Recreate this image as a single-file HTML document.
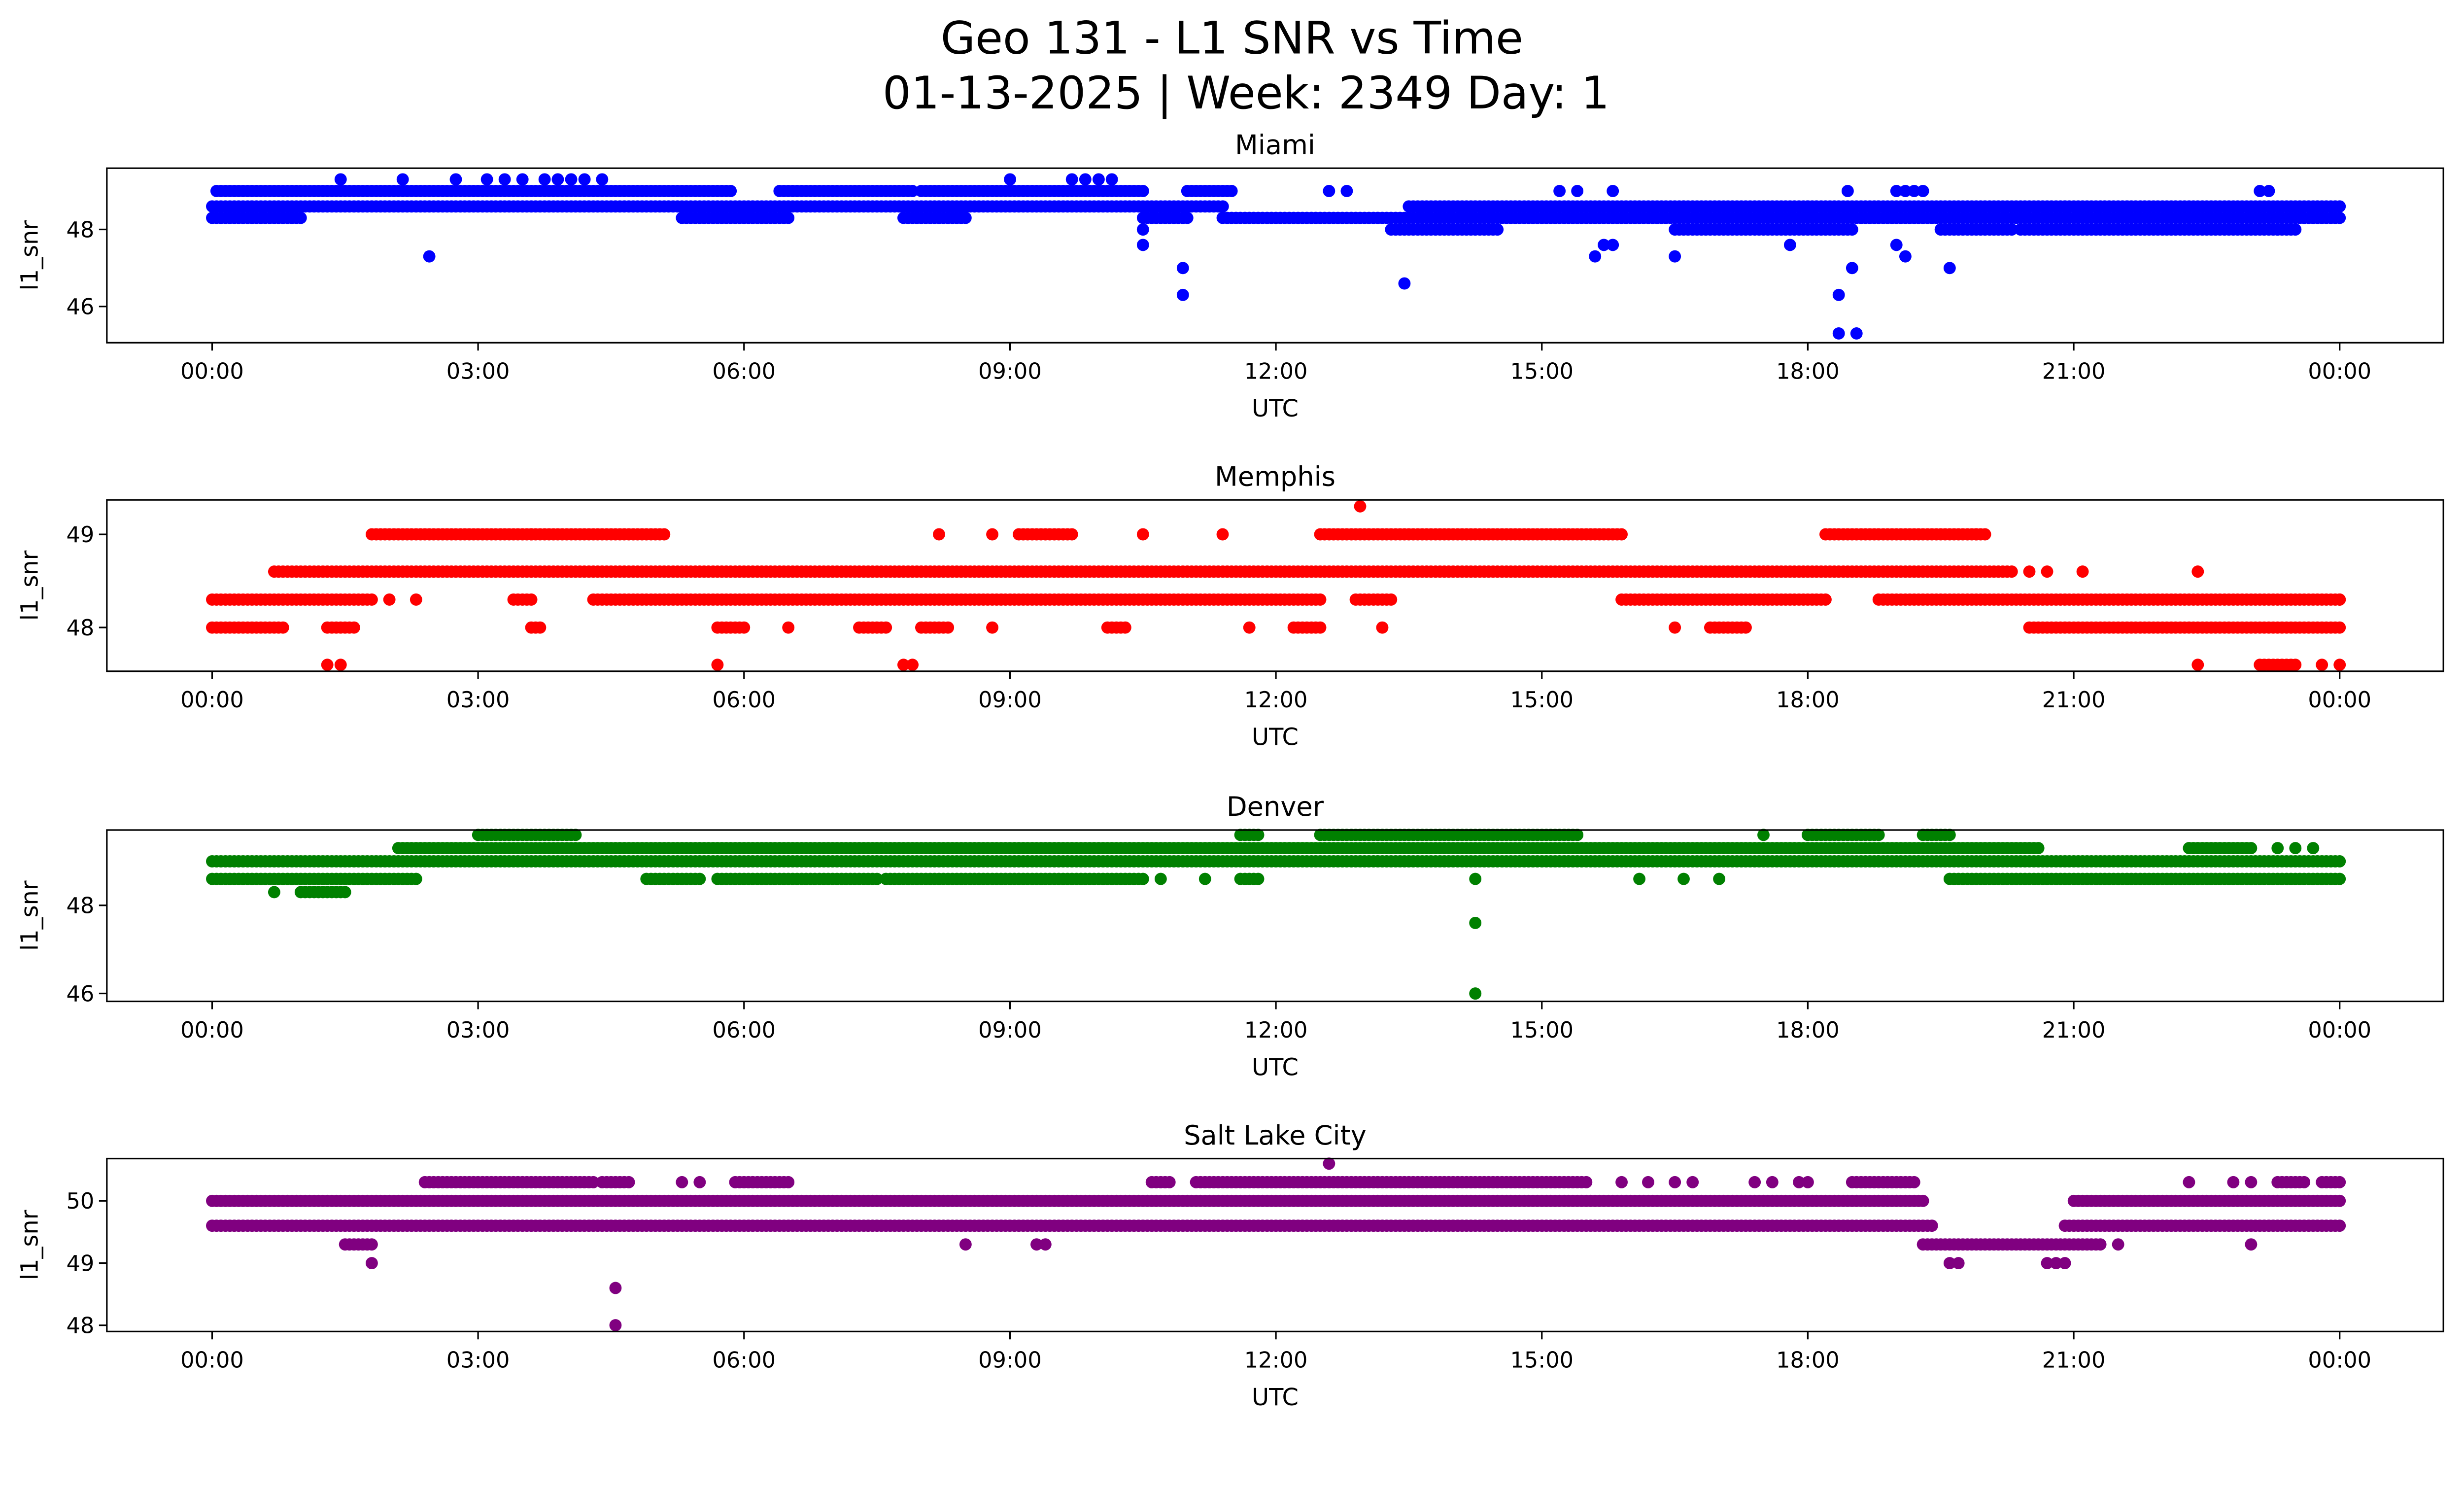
<!DOCTYPE html>
<html><head><meta charset="utf-8"><style>
html,body{margin:0;padding:0;background:#fff}
svg{display:block;font-family:"DejaVu Sans","Liberation Sans",sans-serif}
</style></head><body>
<svg id="fig" xmlns="http://www.w3.org/2000/svg" width="5226" height="3033" viewBox="0 0 1639 951" preserveAspectRatio="none">
<rect width="1639" height="951" fill="#fff"/>
<text x="784" y="34" font-size="28.5" text-anchor="middle">Geo 131 - L1 SNR vs Time</text>
<text x="793" y="69" font-size="28.5" text-anchor="middle">01-13-2025 | Week: 2349 Day: 1</text>
<g id="plots"></g>
</svg>
<script>
// Miami
const miamiRuns = [[0.05,5.85,49.0],[6.4,7.9,49.0],[8.0,10.5,49.0],[11.0,11.5,49.0],
 [0.0,11.4,48.6],[13.5,16.6,48.6],[16.6,18.0,48.6],[18.0,24.0,48.6],
 [0.0,1.0,48.3],[5.3,6.5,48.3],[7.8,8.5,48.3],[10.5,11.0,48.3],[11.4,24.0,48.3],
 [13.3,14.5,48.0],[16.5,18.5,48.0],[19.5,20.3,48.0],[20.4,23.5,48.0]];
const miamiPts = [[1.45,49.3],[2.15,49.3],[2.75,49.3],[3.1,49.3],[3.3,49.3],[3.5,49.3],[3.75,49.3],[3.9,49.3],[4.05,49.3],[4.2,49.3],[4.4,49.3],[9.0,49.3],[9.7,49.3],[9.85,49.3],[10.0,49.3],[10.15,49.3],
 [2.45,47.3],[10.5,48.0],[10.5,47.6],[10.95,47.0],[10.95,46.3],[13.45,46.6],[15.6,47.3],[15.7,47.6],[15.8,47.6],[16.5,47.3],[17.8,47.6],[18.35,46.3],[18.35,45.3],[18.55,45.3],[18.5,47.0],[18.45,49.0],[19.0,47.6],[19.1,47.3],[19.6,47.0],
 [15.2,49],[15.4,49],[15.8,49],[12.6,49],[12.8,49],[19.0,49],[19.1,49],[19.2,49],[19.3,49],[23.1,49],[23.2,49],[23.3,48]];
// Memphis
const memphisRuns = [[0,1.8,48.3],[3.4,3.6,48.3],[4.3,12.5,48.3],[12.9,13.3,48.3],[15.9,18.2,48.3],[18.8,24,48.3],
 [0,0.8,48.0],[1.3,1.6,48.0],[3.6,3.7,48.0],[5.7,6.0,48.0],[7.3,7.6,48.0],[8.0,8.3,48.0],[10.1,10.3,48.0],[12.2,12.5,48.0],[16.9,17.3,48.0],[20.5,24,48.0],
 [0.7,20.3,48.6],[1.8,3.6,49.0],[3.6,5.1,49.0],[9.1,9.7,49.0],[12.5,15.9,49.0],[18.2,20.0,49.0],[23.1,23.5,47.6]];
const memphisPts = [[1.3,47.6],[1.45,47.6],[5.7,47.6],[7.8,47.6],[7.9,47.6],[22.4,47.6],[23.8,47.6],[24,47.6],[12.95,49.3],
 [2.0,48.3],[2.3,48.3],[8.2,49],[8.8,49],[10.5,49],[11.4,49],[20.5,48.6],[20.7,48.6],[21.1,48.6],[22.4,48.6],[13.2,48],[16.5,48],[8.8,48],[6.5,48],[11.7,48],[24,48.3],[19.9,49]];
// Denver
const denverRuns = [[0,24,49.0],[0,2.3,48.6],[4.9,5.5,48.6],[5.7,7.5,48.6],[7.6,10.5,48.6],[11.6,11.8,48.6],[19.6,24,48.6],
 [2.1,20.6,49.3],[22.3,23.0,49.3],[3.0,4.1,49.6],[11.6,11.8,49.6],[12.5,15.4,49.6],[18.0,18.8,49.6],[19.3,19.6,49.6],[1.0,1.5,48.3]];
const denverPts = [[0.7,48.3],[17.5,49.6],[14.25,47.6],[14.25,46.0],[14.25,48.6],[16.1,48.6],[16.6,48.6],[17.0,48.6],[10.7,48.6],[11.2,48.6],[23.3,49.3],[23.5,49.3],[23.7,49.3]];
// Salt Lake City
const slcRuns = [[0,19.3,50.0],[21.0,24,50.0],[0,19.4,49.6],[20.9,24,49.6],
 [2.4,4.3,50.3],[4.4,4.7,50.3],[5.9,6.5,50.3],[10.6,10.8,50.3],[11.1,15.5,50.3],[18.5,19.2,50.3],[23.3,23.6,50.3],[23.8,24,50.3],
 [1.5,1.8,49.3],[19.3,21.3,49.3]];
const slcPts = [[5.3,50.3],[5.5,50.3],[15.9,50.3],[16.2,50.3],[16.5,50.3],[16.7,50.3],[17.4,50.3],[17.6,50.3],[17.9,50.3],[18.0,50.3],[22.3,50.3],[22.8,50.3],[23.0,50.3],
 [8.5,49.3],[9.3,49.3],[9.4,49.3],[21.5,49.3],[23.0,49.3],[1.8,49.0],[19.6,49.0],[19.7,49.0],[20.7,49.0],[20.8,49.0],[20.9,49.0],[4.55,48.6],[4.55,48.0],[12.6,50.6]];

const xTickLabels = ["00:00","03:00","06:00","09:00","12:00","15:00","18:00","21:00","00:00"];
const panels = [
 {name:"Miami",runs:miamiRuns,pts:miamiPts,color:"#0000ff",top:107,bot:218,ymin:45.06,ymax:49.59,ticks:[46,48]},
 {name:"Memphis",runs:memphisRuns,pts:memphisPts,color:"#ff0000",top:318,bot:427,ymin:47.53,ymax:49.37,ticks:[48,49]},
 {name:"Denver",runs:denverRuns,pts:denverPts,color:"#008000",top:528,bot:637,ymin:45.82,ymax:49.71,ticks:[46,48]},
 {name:"Salt Lake City",runs:slcRuns,pts:slcPts,color:"#800080",top:737,bot:847,ymin:47.9,ymax:50.68,ticks:[48,49,50]}
];
const NS="http://www.w3.org/2000/svg";
const L=68,R=1555,X0=135,X1=1489;
const xs=h=>X0+(X1-X0)*h/24;
function mk(tag,attrs,parent){const e=document.createElementNS(NS,tag);for(const k in attrs)e.setAttribute(k,attrs[k]);parent.appendChild(e);return e;}
const root=document.getElementById('plots');
panels.forEach(p=>{
 const g=mk('g',{},root);
 
 
 const ys=v=>p.bot-(v-p.ymin)/(p.ymax-p.ymin)*(p.bot-p.top);
 const marks=mk('g',{fill:p.color},g);
 
 
 p.runs.forEach(r=>{
  for(let h=r[0];h<=r[1]+1e-9;h+=0.05){
   mk('circle',{cx:xs(h).toFixed(1),cy:ys(r[2]).toFixed(1),r:3.9},marks);
  }
 });
 p.pts.forEach(q=>{
  const c=mk('circle',{cx:xs(q[0]).toFixed(1),cy:ys(q[1]).toFixed(1),r:3.9},marks);
  
  
 });
 const frame=mk('rect',{x:L,y:p.top,width:R-L,height:p.bot-p.top,fill:'none',stroke:'#000','stroke-width':1},g);
 
 
 const t=mk('text',{x:(L+R)/2,y:p.top-9,'font-size':17,'text-anchor':'middle'},g);
 t.textContent=p.name;
 
 
 p.ticks.forEach(v=>{
  mk('line',{x1:L-5,x2:L,y1:ys(v),y2:ys(v),stroke:'#000'},g);
  const tl=mk('text',{x:L-8,y:ys(v)+5,'font-size':14,'text-anchor':'end'},g);
  tl.textContent=v;
  
  
 });
 xTickLabels.forEach((lab,i)=>{
  const x=xs(i*3);
  mk('line',{x1:x,x2:x,y1:p.bot,y2:p.bot+5,stroke:'#000'},g);
  const tl=mk('text',{x:x,y:p.bot+23,'font-size':14,'text-anchor':'middle'},g);
  tl.textContent=lab;
  
  
 });
 const xl=mk('text',{x:(L+R)/2,y:p.bot+47,'font-size':15,'text-anchor':'middle'},g);
 xl.textContent='UTC';
 
 
 const yc=(p.top+p.bot)/2;
 const yl=mk('text',{x:24,y:yc,'font-size':15,'text-anchor':'middle',transform:`rotate(-90 24 ${yc})`},g);
 yl.textContent='l1_snr';
 
 
});
</script>
</body></html>
